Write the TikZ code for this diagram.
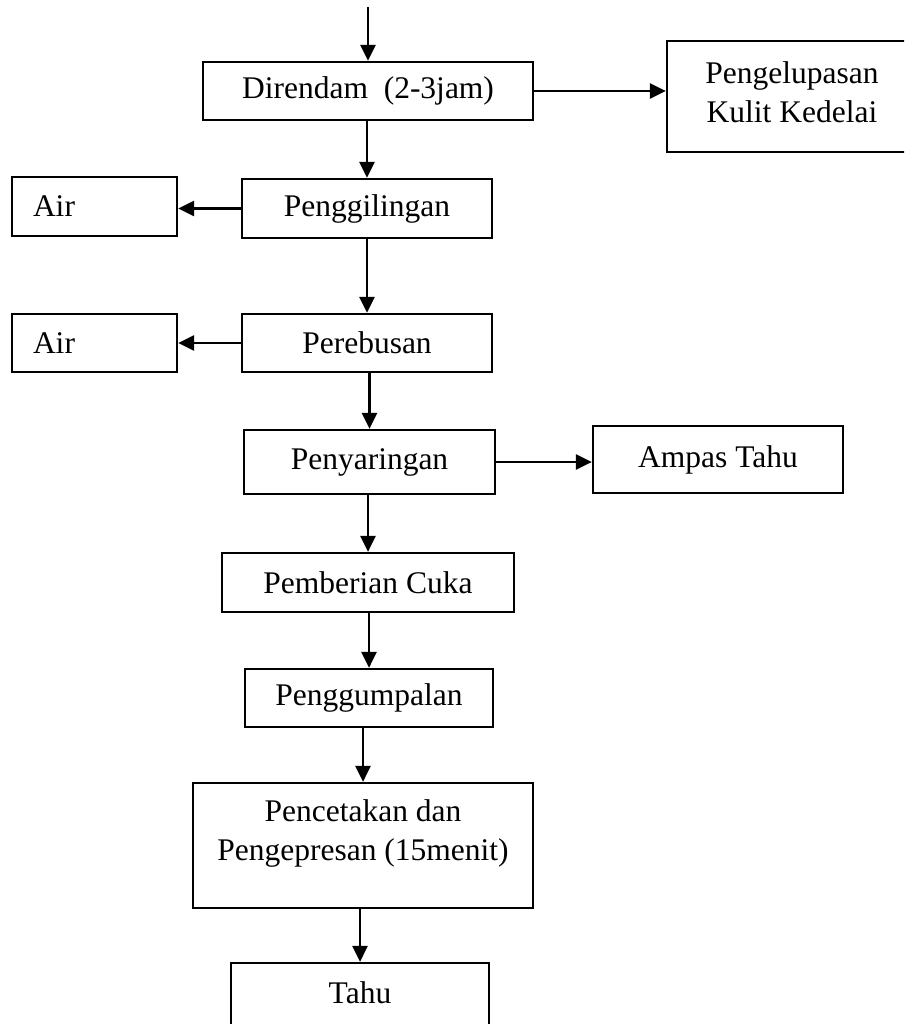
\documentclass[tikz,border=0pt]{standalone}
\usepackage{fontspec}
\setmainfont{Liberation Serif}
\usetikzlibrary{arrows.meta}
\begin{document}
\begin{tikzpicture}[x=1pt,y=-1pt,
  box/.style={draw, line width=2.2pt, inner sep=0pt, font=\fontsize{31.5}{39}\selectfont, align=center},
  txt/.style={inner sep=0pt, font=\fontsize{31.5}{39}\selectfont, align=center},
  leftbox/.style={box, align=left, text width=123pt, inner xsep=21pt},
  arr/.style={line width=2.8pt, -{Triangle[length=16pt,width=15pt]}}]
\useasboundingbox (0,0) rectangle (904,1024);
\clip (0,0) rectangle (904,1024);

\coordinate (start) at (368,7);
\node[box, minimum width=330pt, minimum height=58pt] (dir) at (368,91) {Direndam\ \ (2-3jam)};
\node[box, minimum width=250pt, minimum height=111pt] (peng) at (792,96.5) {};
\node[txt] (pengtext) at (792,92.5) {Pengelupasan\\Kulit Kedelai};
\node[box, minimum width=250pt, minimum height=59pt] (giling) at (367,208.5) {Penggilingan};
\node[leftbox, minimum width=165pt, minimum height=59pt] (air1) at (94.5,206.5) {Air};
\node[box, minimum width=250pt, minimum height=58pt] (rebus) at (367,343) {Perebusan};
\node[leftbox, minimum width=165pt, minimum height=58pt] (air2) at (94.5,343) {Air};
\node[box, minimum width=251pt, minimum height=64pt] (saring) at (369.5,462) {Penyaringan};
\node[box, minimum width=250pt, minimum height=67pt] (ampas) at (718,459.5) {Ampas Tahu};
\node[box, minimum width=292pt, minimum height=59pt] (cuka) at (368,582.5) {Pemberian Cuka};
\node[box, minimum width=248pt, minimum height=58pt] (gumpal) at (369,698) {Penggumpalan};
\node[box, minimum width=340pt, minimum height=125pt] (cetak) at (363,845.5) {};
\node[txt] (cetaktext) at (363,833) {Pencetakan dan\\Pengepresan (15menit)};
\node[box, minimum width=258pt, minimum height=72pt] (tahu) at (360,999) {};
\node[txt] (tahutext) at (360,993) {Tahu};

\draw[arr] (start) -- (dir.north);
\draw[arr] (dir.east) -- (dir.east -| peng.west);
\draw[arr] (giling.north |- dir.south) -- (giling.north);
\draw[arr] (giling.west) -- (giling.west -| air1.east);
\draw[arr] (rebus.north |- giling.south) -- (rebus.north);
\draw[arr] (rebus.west) -- (rebus.west -| air2.east);
\draw[arr] (saring.north |- rebus.south) -- (saring.north);
\draw[arr] (saring.east) -- (saring.east -| ampas.west);
\draw[arr] (cuka.north |- saring.south) -- (cuka.north);
\draw[arr] (gumpal.north |- cuka.south) -- (gumpal.north);
\draw[arr] (cetak.north |- gumpal.south) -- (cetak.north);
\draw[arr] (tahu.north |- cetak.south) -- (tahu.north);
\end{tikzpicture}
\end{document}
